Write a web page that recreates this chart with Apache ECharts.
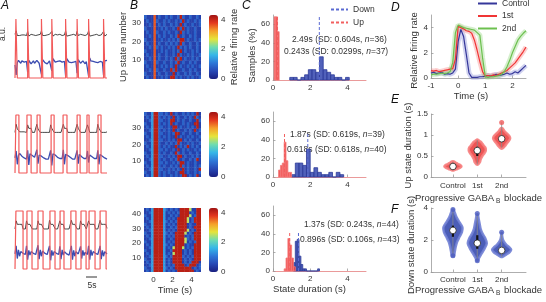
<!DOCTYPE html>
<html>
<head>
<meta charset="utf-8">
<title>Up and down states</title>
<script src="https://cdn.jsdelivr.net/npm/echarts@6/dist/echarts.min.js"></script>
<style>
html, body { margin: 0; padding: 0; background: #fff; }
#chart { width: 546px; height: 302px; }
</style>
</head>
<body>
<div id="chart"></div>
<script>
var FONT = 'Liberation Sans, Arial, sans-serif';
var TXT = '#333';
var AX = '#999';

// ---------- A: example traces (sampled every 0.5 s) ----------
var traceStep = 0.5;
var traceEnd = 40;
var upA = [
    [[0.4, 1.0], [5.5, 6.1], [11.5, 12.1], [16.0, 16.6], [22.0, 22.6], [27.0, 27.6], [32.0, 32.6], [38.5, 39.1]],
    [[0.4, 1.7], [5.2, 7.0], [9.6, 10.9], [15.7, 17.0], [20.9, 22.6], [27.0, 28.3], [31.3, 32.2], [36.1, 37.4]],
    [[0.4, 3.5], [5.2, 7.4], [10.0, 12.2], [15.2, 17.4], [19.6, 21.3], [24.3, 26.5], [28.7, 30.9], [32.2, 34.8], [37.0, 39.6]]
];
var blackA = [
    [0.74,0.80,0.72,0.73,0.72,0.74,0.73,0.72,0.73,0.74, 0.72,0.79,0.71,0.73,0.74,0.72,0.73,0.74,0.72,0.73,
     0.73,0.72,0.74,0.80,0.72,0.73,0.72,0.74,0.73,0.72, 0.74,0.72,0.79,0.71,0.73,0.74,0.72,0.73,0.72,0.74,
     0.73,0.72,0.74,0.73,0.80,0.71,0.73,0.72,0.74,0.73, 0.72,0.74,0.73,0.72,0.79,0.72,0.73,0.74,0.72,0.73,
     0.74,0.72,0.73,0.74,0.80,0.71,0.73,0.72,0.74,0.73, 0.72,0.74,0.73,0.72,0.74,0.73,0.72,0.79,0.71,0.73, 0.74],
    [0.70,0.84,0.76,0.77,0.71,0.70,0.71,0.70,0.71,0.70, 0.70,0.83,0.77,0.76,0.77,0.70,0.71,0.70,0.71,0.84,
     0.76,0.77,0.70,0.71,0.70,0.71,0.70,0.71,0.70,0.71, 0.70,0.83,0.77,0.76,0.70,0.71,0.70,0.71,0.70,0.71,
     0.70,0.71,0.84,0.77,0.76,0.77,0.70,0.71,0.70,0.71, 0.70,0.71,0.70,0.71,0.84,0.77,0.76,0.70,0.71,0.70,
     0.71,0.70,0.71,0.83,0.77,0.70,0.71,0.70,0.71,0.70, 0.71,0.70,0.84,0.77,0.76,0.70,0.71,0.70,0.71,0.70, 0.71],
    [0.69,0.83,0.77,0.76,0.77,0.76,0.77,0.69,0.70,0.69, 0.83,0.77,0.76,0.77,0.76,0.69,0.70,0.69,0.70,0.69,
     0.83,0.77,0.76,0.77,0.76,0.69,0.70,0.69,0.70,0.69, 0.84,0.77,0.76,0.77,0.76,0.69,0.70,0.69,0.70,0.83,
     0.77,0.76,0.77,0.69,0.70,0.69,0.70,0.69,0.70,0.84, 0.77,0.76,0.77,0.76,0.69,0.70,0.69,0.83,0.77,0.76,
     0.77,0.76,0.69,0.70,0.83,0.77,0.76,0.77,0.76,0.77, 0.69,0.70,0.69,0.70,0.84,0.77,0.76,0.77,0.76,0.77, 0.70]
];
var blueA = [
    [0.22,0.05,0.26,0.30,0.28,0.25,0.29,0.31,0.27,0.24, 0.28,0.10,0.30,0.27,0.24,0.26,0.29,0.25,0.27,0.30,
     0.28,0.25,0.27,0.06,0.31,0.29,0.26,0.28,0.24,0.27, 0.29,0.26,0.12,0.33,0.30,0.27,0.25,0.28,0.26,0.29,
     0.31,0.27,0.25,0.28,0.04,0.33,0.30,0.27,0.24,0.26, 0.29,0.27,0.25,0.28,0.08,0.31,0.28,0.25,0.27,0.29,
     0.26,0.24,0.28,0.30,0.03,0.34,0.29,0.26,0.28,0.25, 0.27,0.30,0.26,0.24,0.28,0.31,0.27,0.05,0.29,0.26, 0.30],
    [0.26,0.38,0.15,0.30,0.34,0.31,0.29,0.27,0.26,0.25, 0.24,0.39,0.14,0.33,0.33,0.30,0.28,0.27,0.25,0.40,
     0.16,0.31,0.32,0.29,0.27,0.26,0.25,0.24,0.25,0.24, 0.25,0.39,0.13,0.33,0.34,0.31,0.29,0.27,0.26,0.25,
     0.24,0.25,0.40,0.15,0.32,0.33,0.30,0.28,0.27,0.25, 0.24,0.25,0.24,0.25,0.39,0.16,0.32,0.31,0.28,0.26,
     0.25,0.24,0.25,0.38,0.18,0.31,0.30,0.28,0.26,0.25, 0.24,0.25,0.39,0.15,0.32,0.31,0.29,0.27,0.26,0.25, 0.24],
    [0.26,0.40,0.18,0.33,0.22,0.30,0.28,0.27,0.26,0.25, 0.40,0.16,0.32,0.24,0.30,0.28,0.27,0.26,0.25,0.24,
     0.41,0.17,0.33,0.22,0.31,0.28,0.27,0.26,0.25,0.24, 0.40,0.15,0.32,0.23,0.30,0.28,0.27,0.26,0.25,0.39,
     0.17,0.33,0.24,0.30,0.28,0.26,0.25,0.24,0.25,0.40, 0.16,0.32,0.22,0.30,0.28,0.26,0.25,0.39,0.18,0.32,
     0.23,0.29,0.27,0.25,0.40,0.16,0.33,0.23,0.30,0.28, 0.27,0.26,0.25,0.24,0.40,0.17,0.32,0.22,0.30,0.28, 0.26]
];

// ---------- B: relative firing rate per up state (one string = 2 up states, 6 s wide) ----------
var levelValue = [0.15, 0.45, 0.85, 1.4, 2.0, 2.5, 3.0, 3.6, 4.1];
var heatB = [
    ['121171121218821211212112','211171211211812112121121','112172112118281121121211','121171121212181211212112',
     '211172112112128121121211','112171211212182812112121','121171211211218211212112','211171121211212812112121',
     '112172121121218212121121','121171211212121821121121','211171121121212881211212','112171212112128121121211',
     '121172112121121821211211','211171121211218281211211','112171212112121812112112','121172112121121281211212',
     '211171211212112821121121'],
    ['121388212112121288121281','211388212121121881211212','112388221121212181211218','121388212112121821211212',
     '211388221211212881211211','112388212112128121121281','121388221121218812112121','211388212112182121121121',
     '112388221211218121211212','121388212121181212812121','211388211212128211212112','112388221121218812121121',
     '121388212121181211212112','211388221121288121121121','112388212121812112121812','121388221121881211212181',
     '211388212128121121211881','112388221128812121121182','121388212121812112121821','211388221218121121212181'],
    ['121388883121218888888121','211388883212188888881212','112388883121288881288812','121388883121888812128881',
     '211388883121888812121888','112388883212888821212888','121388883121588812121888','211388883112888812121888',
     '112388883121588851212888','121388883212188881211888','211388883121288885121288','112388883112188885212888',
     '121388883121288881212888','211388883212188885121888','112388883121218888512188','121388883112128888121888',
     '211388883121218888121188','112388883212128888512888','121388883121218888512888','211388883112121888851288',
     '112388883121212888812188','121388883212121888851188']
];
var heatRows = [34, 40, 44];

// ---------- C: state duration histograms (% of samples) ----------
var downStart = [0.9, 1.0, 1.1];
var downWidth = [0.2, 0.2, 0.1];
var downHist = [
    [2.8, 2.8, 0, 2.8, 5.6, 11.1, 11.1, 8.3, 25, 11.1, 8.3, 5.6, 2.8, 2.8, 0, 2.8],
    [2.5, 15, 15, 12.5, 30, 5, 10, 5, 2.5, 2.5, 5, 0, 5, 2.5],
    [9, 32, 34, 16, 7, 2.3, 2.3, 0, 0, 0, 0, 0, 0, 2.3]
];
var upStart = [0.06, 0.3, 0.6];
var upWidth = [0.09, 0.1, 0.1];
var upHist = [
    [68, 68, 52],
    [7.5, 12.5, 15, 37.5, 17.5, 5, 5],
    [2.3, 14, 35, 28, 14, 4.6]
];
var meanDown = [2.49, 1.87, 1.37];
var meanUp = [0.243, 0.618, 0.896];
var meanDownTxt = ['2.49', '1.87', '1.37'];
var meanUpTxt = ['0.243', '0.618', '0.896'];
var sdDown = ['0.604', '0.619', '0.243'];
var sdUp = ['0.0299', '0.618', '0.106'];
var nDown = [36, 39, 44];
var nUp = [37, 40, 43];
var meanLineTop = [70, 48, 41];

// ---------- D: average firing rate around up onset ----------
var timeD = [-1.0,-0.9,-0.8,-0.7,-0.6,-0.5,-0.4,-0.3,-0.2,-0.1,0.0,0.1,0.2,0.3,0.4,0.5,0.6,0.7,0.8,0.9,
             1.0,1.1,1.2,1.3,1.4,1.5,1.6,1.7,1.8,1.9,2.0,2.1,2.2,2.3,2.4,2.5];
var controlD = [0.4,0.45,0.35,0.4,0.45,0.3,0.35,0.3,0.4,0.7,2.9,3.85,3.3,1.9,0.4,0.05,0.05,0.05,0.1,0.1,
                0.15,0.2,0.15,0.2,0.3,0.2,0.25,0.3,0.4,0.3,0.35,0.5,0.4,0.6,0.8,1.0];
var firstD = [0.58,0.55,0.6,0.5,0.55,0.6,0.65,0.7,0.75,1.5,4.1,4.0,3.9,3.75,3.7,3.55,3.0,2.2,1.3,0.5,
              0.15,0.2,0.15,0.25,0.2,0.3,0.4,0.5,0.6,0.8,1.0,1.2,1.5,1.8,2.1,2.45];
var secondD = [0.25,0.3,0.3,0.35,0.4,0.35,0.4,0.5,1.2,3.6,4.2,4.1,4.0,3.95,3.9,3.85,3.8,3.6,3.4,1.6,
               0.1,0.05,0.1,0.1,0.15,0.2,0.3,0.5,0.9,1.4,2.0,2.5,3.0,3.3,3.55,3.75];

// ---------- E / F: violins ----------
var groupNames = ['Control', '1st', '2nd'];
var upDensity = [
    [[0.16,0.15],[0.19,0.5],[0.22,0.85],[0.25,1.0],[0.28,0.9],[0.31,0.6],[0.34,0.35],[0.37,0.1]],
    [[0.3,0.1],[0.35,0.3],[0.42,0.4],[0.5,0.6],[0.57,0.85],[0.63,1.0],[0.7,0.95],[0.76,0.7],[0.82,0.5],[0.86,0.25],[0.89,0.05]],
    [[0.68,0.1],[0.74,0.4],[0.8,0.6],[0.86,0.85],[0.92,1.0],[0.98,0.9],[1.04,0.6],[1.1,0.3],[1.16,0.1]]
];
var upMedian = [0.25, 0.63, 0.91];
var upQuart = [[0.22, 0.28], [0.5, 0.72], [0.84, 0.98]];
var upRange = [[0.17, 0.36], [0.3, 0.88], [0.7, 1.3]];
var upExtremes = [[3, 1.3]];
var downDensity = [
    [[1.0,0.1],[1.3,0.2],[1.6,0.3],[1.9,0.45],[2.2,0.7],[2.5,0.95],[2.8,1.0],[3.1,0.7],[3.4,0.4],[3.7,0.2],[3.9,0.05]],
    [[0.7,0.05],[0.9,0.2],[1.2,0.5],[1.5,0.8],[1.8,1.0],[2.1,0.85],[2.4,0.55],[2.7,0.35],[3.0,0.25],[3.3,0.15],[3.6,0.05]],
    [[0.95,0.1],[1.1,0.5],[1.25,0.85],[1.4,1.0],[1.55,0.8],[1.7,0.5],[1.85,0.3],[2.0,0.15],[2.15,0.08],[2.3,0.04],[2.45,0.02]]
];
var downMedian = [2.6, 1.8, 1.35];
var downQuart = [[2.2, 2.9], [1.45, 2.3], [1.2, 1.5]];
var downRange = [[1.0, 3.9], [0.7, 3.65], [0.95, 2.48]];
var downExtremes = [[1, 3.9], [1, 1.02], [2, 3.65], [2, 0.7], [3, 2.48]];

var jet = ['#1a1f80', '#2748b5', '#2e78d8', '#35b6e8', '#6fdcb0', '#e6e43a', '#f5a02a', '#e4381e', '#a01212'];

// ---------- helpers ----------
function merge(a, b) {
    for (var k in b) {
        if (b[k] && typeof b[k] === 'object' && !Array.isArray(b[k]) && a[k] && typeof a[k] === 'object') merge(a[k], b[k]);
        else a[k] = b[k];
    }
    return a;
}
function valAxis(min, max, ticks, extra) {
    return merge({
        type: 'value', min: min, max: max,
        axisLine: {show: true, onZero: false, lineStyle: {color: AX, width: 0.8}},
        axisTick: {show: true, inside: true, length: 2.5, customValues: ticks, lineStyle: {color: AX, width: 0.8}},
        axisLabel: {customValues: ticks, color: TXT, fontSize: 8, fontFamily: FONT, margin: 3},
        splitLine: {show: false},
        nameTextStyle: {color: TXT, fontSize: 9.5, fontFamily: FONT}
    }, extra || {});
}
function hiddenAxis(min, max) { return {type: 'value', min: min, max: max, show: false}; }

var grids = [], xAxes = [], yAxes = [], series = [], visualMaps = [];
function addGrid(box, xa, ya) {
    var gi = grids.length;
    grids.push(box);
    xa.gridIndex = gi; ya.gridIndex = gi;
    xAxes.push(xa); yAxes.push(ya);
    return gi;
}
function toPairs(vals) { return vals.map(function (v, i) { return [i * traceStep, v]; }); }
function squareWave(ups) {
    var pts = [[0, 0]];
    ups.forEach(function (u) { pts.push([u[0], 0], [u[0], 1], [u[1], 1], [u[1], 0]); });
    pts.push([traceEnd, 0]);
    return pts;
}
function heatCells(rows) {
    var out = [];
    rows.forEach(function (s, r) {
        var dt = 6 / s.length;
        for (var c = 0; c < s.length; c++) out.push([-1 + c * dt, r * 2, levelValue[+s[c]], dt, 2]);
    });
    return out;
}
function heatCell(params, api) {
    var p0 = api.coord([api.value(0), api.value(1) + api.value(4)]);
    var p1 = api.coord([api.value(0) + api.value(3), api.value(1)]);
    return {type: 'rect', shape: {x: p0[0], y: p0[1], width: p1[0] - p0[0] + 0.4, height: p1[1] - p0[1] + 0.4},
            style: {fill: api.visual('color')}};
}
function histData(start, w, vals) {
    return vals.map(function (v, i) { return [start + i * w, start + (i + 1) * w, v]; });
}
function histBar(fill, stroke) {
    return function (params, api) {
        var p0 = api.coord([api.value(0), api.value(2)]);
        var p1 = api.coord([api.value(1), 0]);
        return {type: 'rect', shape: {x: p0[0], y: p0[1], width: p1[0] - p0[0], height: p1[1] - p0[1]},
                style: {fill: fill, stroke: stroke, lineWidth: 0.8}};
    };
}
function violin(dens, quart, range, fill, edge, halfPx) {
    return function (params, api) {
        var g = params.dataIndex, x = api.value(0);
        var left = [], right = [];
        dens[g].forEach(function (p) {
            var c = api.coord([x, p[0]]);
            left.push([c[0] - p[1] * halfPx, c[1]]);
            right.unshift([c[0] + p[1] * halfPx, c[1]]);
        });
        var w0 = api.coord([x, range[g][0]]), w1 = api.coord([x, range[g][1]]);
        var q0 = api.coord([x, quart[g][0]]), q1 = api.coord([x, quart[g][1]]);
        var m = api.coord([x, api.value(1)]);
        return {type: 'group', children: [
            {type: 'polygon', shape: {points: left.concat(right), smooth: 0.3},
             style: {fill: fill, stroke: edge, lineWidth: 2.5, lineJoin: 'round'}},
            {type: 'line', shape: {x1: w0[0], y1: w0[1], x2: w1[0], y2: w1[1]}, style: {stroke: '#8a8a8a', lineWidth: 0.8}},
            {type: 'line', shape: {x1: q0[0], y1: q0[1], x2: q1[0], y2: q1[1]}, style: {stroke: '#111', lineWidth: 2.2}},
            {type: 'circle', shape: {cx: m[0], cy: m[1], r: 3.3}, style: {fill: '#fff', stroke: '#222', lineWidth: 0.8}}
        ]};
    };
}

// ---------- A ----------
var boxA = [{left: 15, top: 19, width: 92, height: 59}, {left: 15, top: 115, width: 92, height: 58}, {left: 15, top: 211, width: 92, height: 58}];
for (var r = 0; r < 3; r++) {
    var gi = addGrid(boxA[r], hiddenAxis(0, traceEnd), hiddenAxis(0, 1));
    series.push({type: 'line', xAxisIndex: gi, yAxisIndex: gi, data: toPairs(blackA[r]), symbol: 'none', clip: false,
                 lineStyle: {color: '#1a1a1a', width: 0.8}});
    series.push({type: 'line', xAxisIndex: gi, yAxisIndex: gi, data: toPairs(blueA[r]), symbol: 'none', clip: false,
                 lineStyle: {color: '#3b4cb0', width: 1.3}});
    series.push({type: 'line', xAxisIndex: gi, yAxisIndex: gi, data: squareWave(upA[r]), symbol: 'none', clip: false,
                 lineStyle: {color: '#f25a5a', width: 1.2}});
}

// ---------- B ----------
var boxB = [{left: 144, top: 15, width: 57, height: 64}, {left: 144, top: 112, width: 57, height: 65}, {left: 144, top: 208, width: 57, height: 64}];
var yTicksB = [[10, 20, 30], [10, 20, 30], [10, 20, 30, 40]];
for (r = 0; r < 3; r++) {
    var xb = valAxis(-1, 5, [0, 2, 4], {axisLine: {show: false}, axisTick: {show: false}, axisLabel: {show: r === 2, margin: 4}});
    if (r === 2) merge(xb, {name: 'Time (s)', nameLocation: 'middle', nameGap: 13, nameTextStyle: {padding: [0, 0, 0, 5]}});
    var yb = valAxis(0, heatRows[r], yTicksB[r], {axisLine: {show: false}, axisTick: {show: false}});
    if (r === 0) merge(yb, {name: 'Up state number', nameLocation: 'middle', nameGap: 16, nameRotate: 90});
    gi = addGrid(boxB[r], xb, yb);
    series.push({type: 'custom', xAxisIndex: gi, yAxisIndex: gi, renderItem: heatCell, clip: true,
                 dimensions: ['t', 'row', 'rate', 'dt', 'dh'], encode: {x: 0, y: 1}, data: heatCells(heatB[r])});
    visualMaps.push({type: 'continuous', min: 0, max: 4.3, dimension: 2, seriesIndex: series.length - 1,
                     calculable: false, orient: 'vertical', left: 209, top: boxB[r].top, itemWidth: 9,
                     itemHeight: boxB[r].height, padding: 0, hoverLink: false, inRange: {color: jet}});
    var yc = valAxis(0, 4.3, [0, 2, 4], {position: 'right', axisLine: {show: false}, axisTick: {show: false}, axisLabel: {margin: 3}});
    if (r === 0) merge(yc, {name: 'Relative firing rate', nameLocation: 'middle', nameGap: 10, nameRotate: 90});
    addGrid({left: 209, top: boxB[r].top, width: 9, height: boxB[r].height}, hiddenAxis(0, 1), yc);
}

// ---------- C ----------
var boxC = [{left: 273, top: 15, width: 93, height: 65}, {left: 273, top: 112, width: 93, height: 65}, {left: 273, top: 206, width: 93, height: 65}];
for (r = 0; r < 3; r++) {
    var xcc = valAxis(0, 5, [0, 2, 4], {axisLine: {lineStyle: {color: '#e58080'}}, axisLabel: {margin: 4}});
    if (r === 2) merge(xcc, {name: 'State duration (s)', nameLocation: 'middle', nameGap: 12, nameTextStyle: {padding: [0, 20, 0, 0]}});
    var ycc = valAxis(0, 70, [0, 20, 40, 60]);
    if (r === 0) merge(ycc, {name: 'Samples (%)', nameLocation: 'middle', nameGap: 12, nameRotate: 90, nameTextStyle: {padding: [0, 16, 0, 0]}});
    gi = addGrid(boxC[r], xcc, ycc);
    series.push({type: 'custom', name: 'Down hist', xAxisIndex: gi, yAxisIndex: gi, renderItem: histBar('rgba(62,80,178,0.9)', '#2c3a98'),
                 data: histData(downStart[r], downWidth[r], downHist[r])});
    series.push({type: 'custom', name: 'Up hist', xAxisIndex: gi, yAxisIndex: gi, renderItem: histBar('rgba(240,60,60,0.85)', '#f47a7a'),
                 data: histData(upStart[r], upWidth[r], upHist[r])});
    series.push({type: 'line', name: 'Down', xAxisIndex: gi, yAxisIndex: gi, symbol: 'none', showSymbol: false,
                 data: [[meanDown[r], 0], [meanDown[r], meanLineTop[r]]], lineStyle: {color: '#5a6ad2', width: 1, type: [3, 2]}});
    series.push({type: 'line', name: 'Up', xAxisIndex: gi, yAxisIndex: gi, symbol: 'none', showSymbol: false,
                 data: [[meanUp[r], 0], [meanUp[r], meanLineTop[r]]], lineStyle: {color: '#f26060', width: 1, type: [3, 2]}});
}

// ---------- D ----------
gi = addGrid({left: 431, top: 15, width: 95, height: 63},
    valAxis(-1, 2.5, [-1, 0, 1, 2], {name: 'Time (s)', nameLocation: 'middle', nameGap: 13, nameTextStyle: {padding: [0, 15, 0, 0]}, axisLabel: {margin: 4}}),
    valAxis(0, 5, [0, 2, 4], {name: 'Relative firing rate', nameLocation: 'middle', nameGap: 11, nameRotate: 90, nameTextStyle: {padding: [0, 8, 0, 0]}}));
var dLines = [['Control', controlD, '#35379a', 'rgba(120,125,210,0.35)'],
              ['1st', firstD, '#f03535', 'rgba(245,120,120,0.35)'],
              ['2nd', secondD, '#6cc04f', 'rgba(150,215,130,0.4)']];
dLines.forEach(function (d) {
    var pts = timeD.map(function (t, i) { return [t, d[1][i]]; });
    series.push({type: 'line', name: d[0] + ' sem', xAxisIndex: gi, yAxisIndex: gi, data: pts, symbol: 'none',
                 lineStyle: {color: d[3], width: 5}});
});
dLines.forEach(function (d) {
    var pts = timeD.map(function (t, i) { return [t, d[1][i]]; });
    series.push({type: 'line', name: d[0], xAxisIndex: gi, yAxisIndex: gi, data: pts, symbol: 'none', showSymbol: false,
                 color: d[2], lineStyle: {color: d[2], width: 1.2}});
});

// ---------- E / F ----------
var gabaName = '{a|Progressive GABA}{s|B}{a| blockade}';
var gabaRich = {a: {fontSize: 9.5, color: TXT, fontFamily: FONT},
                s: {fontSize: 6.5, color: TXT, fontFamily: FONT, padding: [7, 1, 0, 2]}};
function groupAxis(gap, margin) {
    return valAxis(0.1, 4, [1, 2, 3], {
        axisLabel: {margin: margin, formatter: function (v) { return groupNames[v - 1]; }},
        name: gabaName, nameLocation: 'middle', nameGap: gap, nameTextStyle: {rich: gabaRich}
    });
}
gi = addGrid({left: 431, top: 114, width: 95, height: 63}, groupAxis(14, 5),
    valAxis(0, 1.5, [0, 0.5, 1, 1.5], {name: 'Up state duration (s)', nameLocation: 'middle', nameGap: 15, nameRotate: 90}));
series.push({type: 'custom', xAxisIndex: gi, yAxisIndex: gi, clip: false,
             renderItem: violin(upDensity, upQuart, upRange, 'rgba(236,62,62,0.88)', 'rgba(246,125,125,0.9)', 8.5),
             data: upMedian.map(function (m, i) { return [i + 1, m]; })});
series.push({type: 'scatter', xAxisIndex: gi, yAxisIndex: gi, data: upExtremes, symbolSize: 5, itemStyle: {color: '#ee5a5a'}});

gi = addGrid({left: 431, top: 208, width: 95, height: 64}, groupAxis(10, 4),
    valAxis(0, 4, [0, 2, 4], {name: 'Down state duration (s)', nameLocation: 'middle', nameGap: 15, nameRotate: 90, nameTextStyle: {padding: [0, 10, 0, 0]}}));
series.push({type: 'custom', xAxisIndex: gi, yAxisIndex: gi, clip: false,
             renderItem: violin(downDensity, downQuart, downRange, 'rgba(55,75,175,0.9)', 'rgba(112,128,212,0.9)', 9.5),
             data: downMedian.map(function (m, i) { return [i + 1, m]; })});
series.push({type: 'scatter', xAxisIndex: gi, yAxisIndex: gi, data: downExtremes, symbolSize: 5, itemStyle: {color: '#4c5cc0'}});

// ---------- annotations ----------
var letterStyle = {fontSize: 12, fontStyle: 'italic', fontFamily: FONT, fill: '#111', verticalAlign: 'middle'};
function letter(t, x, y) { return {type: 'text', x: x, y: y, style: merge({text: t}, letterStyle)}; }
function plain(t, x, y, extra) {
    return {type: 'text', x: x, y: y, style: merge({text: t, fontSize: 8.5, fontFamily: FONT, fill: TXT, verticalAlign: 'middle'}, extra || {})};
}
var statRich = {a: {fontSize: 8.5, fontFamily: FONT, fill: TXT}, i: {fontSize: 8.5, fontFamily: FONT, fill: TXT, fontStyle: 'italic'}};
function stat(m, sd, n, x, y) {
    return {type: 'text', x: x, y: y, style: {text: '{a|' + m + 's (SD: ' + sd + 's, }{i|n}{a|=' + n + ')}', rich: statRich, verticalAlign: 'middle'}};
}
var statPos = [[[292, 40], [284, 52]], [[290, 135], [287, 150]], [[304, 225], [300, 240]]];
var graphics = [
    letter('A', 1, 6), letter('B', 130, 6), letter('C', 242, 6), letter('D', 391, 8), letter('E', 391, 100), letter('F', 391, 210),
    plain('a.u.', 3, 34, {align: 'center'}),
    {type: 'line', shape: {x1: 86, y1: 277, x2: 97, y2: 277}, style: {stroke: '#333', lineWidth: 1}},
    plain('5s', 92, 286, {align: 'center'})
];
graphics[6].rotation = Math.PI / 2;
for (r = 0; r < 3; r++) {
    graphics.push(stat(meanDownTxt[r], sdDown[r], nDown[r], statPos[r][0][0], statPos[r][0][1]));
    graphics.push(stat(meanUpTxt[r], sdUp[r], nUp[r], statPos[r][1][0], statPos[r][1][1]));
}

var legendCommon = {orient: 'vertical', itemHeight: 8, padding: 0, selectedMode: false,
                    itemStyle: {opacity: 0, borderWidth: 0},
                    textStyle: {fontSize: 8.5, color: TXT, fontFamily: FONT}};

var chart = echarts.init(document.getElementById('chart'), null, {renderer: 'canvas'});
chart.setOption({
    animation: false,
    backgroundColor: '#fff',
    textStyle: {fontFamily: FONT},
    grid: grids,
    xAxis: xAxes,
    yAxis: yAxes,
    visualMap: visualMaps,
    legend: [
        merge({data: ['Down', 'Up'], left: 330, top: 5, itemWidth: 17, itemGap: 4}, JSON.parse(JSON.stringify(legendCommon))),
        merge({data: ['Control', '1st', '2nd'], left: 477, top: -1, itemWidth: 19, itemGap: 3.5}, JSON.parse(JSON.stringify(legendCommon)))
    ],
    graphic: graphics,
    series: series
});
</script>
</body>
</html>
